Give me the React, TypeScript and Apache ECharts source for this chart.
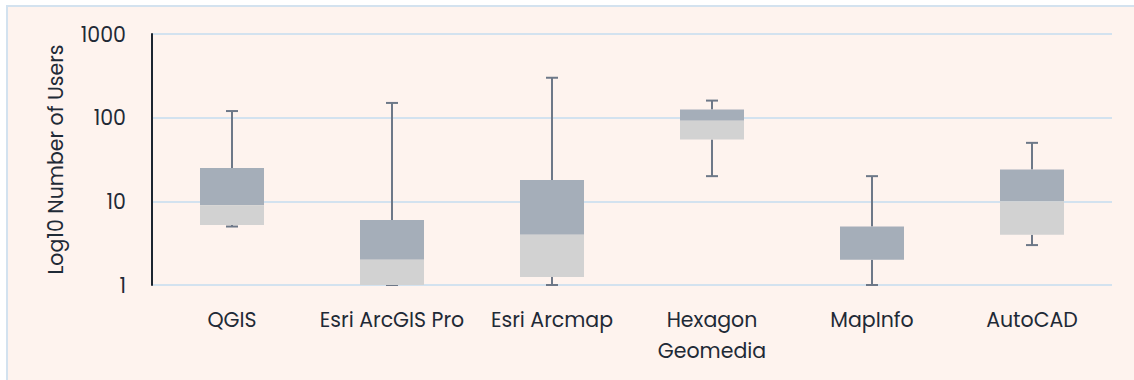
import React, { useEffect, useRef } from "react";
import * as echarts from "echarts";

// Software packages and the spread of their user counts
const categories = ["QGIS", "Esri ArcGIS Pro", "Esri Arcmap", "Hexagon\nGeomedia", "MapInfo", "AutoCAD"];
const minValues = [5, 1, 1, 20, 1, 3];
const q1Values = [5.2, 1, 1.25, 55, 2, 4];
const medianValues = [9, 2, 4, 92, 2, 10];
const q3Values = [25, 6, 18, 125, 5, 24];
const maxValues = [120, 150, 300, 160, 20, 50];
const yTicks = [1, 10, 100, 1000];

const FONT = "Poppins, Inter, 'Open Sans', sans-serif";
const TEXT = "#1f2a36";
const UPPER = "#a5aeb9";
const LOWER = "#d2d2d2";
const WHISKER = "#6d7888";

export default function App() {
  const ref = useRef<HTMLDivElement>(null);

  useEffect(() => {
    if (!ref.current) return;
    const chart = echarts.init(ref.current, undefined, { renderer: "svg" });
    const data = categories.map((_, i) => [i, minValues[i], q1Values[i], medianValues[i], q3Values[i], maxValues[i]]);

    chart.setOption({
      animation: false,
      backgroundColor: "transparent",
      graphic: [
        {
          type: "rect",
          shape: { x: 7, y: 6, width: 1140, height: 390 },
          style: { fill: "#fef3ee", stroke: "#d3e2ef", lineWidth: 2 },
          silent: true,
          z: -10,
        },
      ],
      grid: { left: 152, right: 22, top: 34, bottom: 95 },
      xAxis: {
        type: "category",
        data: categories,
        axisLine: { show: false },
        axisTick: { show: false },
        axisLabel: {
          interval: 0,
          color: TEXT,
          fontFamily: FONT,
          fontSize: 20.5,
          margin: 19,
          lineHeight: 31,
        },
        splitLine: { show: false },
      },
      yAxis: {
        type: "log",
        logBase: 10,
        min: yTicks[0],
        max: yTicks[yTicks.length - 1],
        name: "Log10 Number of Users",
        nameLocation: "middle",
        nameGap: 86,
        nameTextStyle: { color: TEXT, fontFamily: FONT, fontSize: 20.5 },
        axisLine: { show: true, lineStyle: { color: "#1c2530", width: 2 } },
        axisTick: { show: false },
        axisLabel: {
          color: TEXT,
          fontFamily: FONT,
          fontSize: 20.5,
          margin: 26,
          formatter: (v: number) => String(Math.round(v)),
        },
        splitLine: { show: true, lineStyle: { color: "#d3e2ef", width: 2 } },
      },
      series: [
        {
          type: "custom",
          data,
          encode: { x: 0, y: [1, 2, 3, 4, 5] },
          renderItem: (params: any, api: any) => {
            const idx = api.value(0);
            const pMin = api.coord([idx, api.value(1)]);
            const pQ1 = api.coord([idx, api.value(2)]);
            const pMed = api.coord([idx, api.value(3)]);
            const pQ3 = api.coord([idx, api.value(4)]);
            const pMax = api.coord([idx, api.value(5)]);
            const bandW = api.size([1, 1])[0];
            const boxW = bandW * 0.4;
            const capW = 12;
            const x = pQ1[0];
            const lineStyle = { stroke: WHISKER, lineWidth: 2 };
            return {
              type: "group",
              children: [
                { type: "line", shape: { x1: x, y1: pQ3[1], x2: x, y2: pMax[1] }, style: lineStyle },
                { type: "line", shape: { x1: x - capW / 2, y1: pMax[1], x2: x + capW / 2, y2: pMax[1] }, style: lineStyle },
                { type: "line", shape: { x1: x, y1: pQ1[1], x2: x, y2: pMin[1] }, style: lineStyle },
                { type: "line", shape: { x1: x - capW / 2, y1: pMin[1], x2: x + capW / 2, y2: pMin[1] }, style: lineStyle },
                {
                  type: "rect",
                  shape: { x: x - boxW / 2, y: pQ3[1], width: boxW, height: pMed[1] - pQ3[1] },
                  style: { fill: UPPER },
                },
                {
                  type: "rect",
                  shape: { x: x - boxW / 2, y: pMed[1], width: boxW, height: pQ1[1] - pMed[1] },
                  style: { fill: LOWER },
                },
              ],
            };
          },
        },
      ],
    });

    return () => chart.dispose();
  }, []);

  return (
    <div
      ref={ref}
      style={{ position: "absolute", left: 0, top: 0, width: 1134, height: 380, background: "#ffffff" }}
    />
  );
}
